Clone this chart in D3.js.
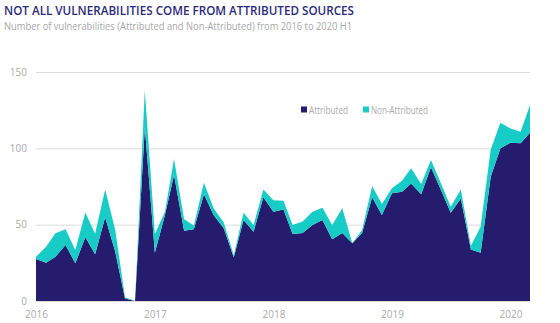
<!DOCTYPE html>
<html><head><meta charset="utf-8">
<script src="https://cdn.jsdelivr.net/npm/d3@7"></script>
<style>
html,body{margin:0;padding:0;background:#fff;}
svg{display:block;font-family:"Open Sans",sans-serif;}
</style></head>
<body><svg id="c" width="560" height="323"></svg>
<script>
const startMonth = "2016-01";
const attributed = [27.5,25,29,36.7,24.7,41.7,30.6,54.8,32.3,1.7,0,114,
  31.6,56.3,82.5,46,47,70,56.3,47.6,28.6,53,45.4,67.9,
  58.5,60,43.9,44.5,49.8,53,40.4,44.5,37.8,44.5,67.9,56.3,
  70.5,71.6,77,70,87.6,72.7,57.8,67.2,33.8,31.6,81.4,100,
  103.7,103.3,110.2];
const total = [29,35.6,44.3,47,33.4,58,44,73,46.5,2.4,0,138,
  43.9,58.5,93,53.5,49.5,77.5,60.7,51.5,30,57.8,49.8,73,
  66,65.7,49.8,52,58.5,61,49.8,60.7,37.8,46.5,75.3,63.5,
  73.8,78.8,86.9,76.6,92.3,77,61.8,73,36,48.7,99.3,116.8,
  113,110.9,128.4];
const nonAttributed = total.map((t,i)=>Math.max(0, +(t-attributed[i]).toFixed(1)));
const yTicks = [0,50,100,150];
const yearTicks = ["2016","2017","2018","2019","2020"];
const seriesNames = ["Attributed","Non-Attributed"];
const colors = ["#261c6e","#17cbc6"];

const parse = d3.timeParse("%Y-%m");
const t0 = parse(startMonth);
const data = attributed.map((a,i)=>({date:d3.timeMonth.offset(t0,i), Attributed:a, "Non-Attributed":nonAttributed[i]}));

const svg = d3.select("#c");
const x = d3.scaleTime().domain(d3.extent(data,d=>d.date)).range([36,530]);
const y = d3.scaleLinear().domain([0,150]).range([301,72]);

// title
svg.append("text").attr("x",4).attr("y",15).attr("fill","#2b2a7c")
  .style("font-family","'Open Sans',sans-serif").style("font-weight","600").style("font-size","13px")
  .attr("textLength",350).attr("lengthAdjust","spacingAndGlyphs")
  .text("NOT ALL VULNERABILITIES COME FROM ATTRIBUTED SOURCES");
svg.append("text").attr("x",4).attr("y",30).attr("fill","#a8a8a8")
  .style("font-size","10px").attr("textLength",348).attr("lengthAdjust","spacingAndGlyphs")
  .text("Number of vulnerabilities (Attributed and Non-Attributed) from 2016 to 2020 H1");

// grid
const gy = svg.append("g").attr("transform","translate(36,0)")
  .call(d3.axisLeft(y).tickValues(yTicks).tickSize(-494).tickPadding(9));
gy.select(".domain").remove();
gy.selectAll(".tick line").attr("stroke","#dcdcdc").attr("stroke-width",1);
gy.selectAll(".tick text").attr("fill","#ababab").style("font-size","10px").style("font-family","'Open Sans',sans-serif");

// stacked areas
const stack = d3.stack().keys(seriesNames);
const layers = stack(data);
const area = d3.area().x(d=>x(d.data.date)).y0(d=>y(d[0])).y1(d=>y(d[1]));
svg.append("g").selectAll("path").data(layers).join("path")
  .attr("d",area).attr("fill",(d,i)=>colors[i]);

// x axis
const gx = svg.append("g").attr("transform","translate(0,301)")
  .call(d3.axisBottom(x).tickValues(yearTicks.map(s=>d3.timeParse("%Y")(s))).tickFormat(d3.timeFormat("%Y")).tickSize(0).tickPadding(10));
gx.select(".domain").remove();
gx.selectAll(".tick text").attr("fill","#ababab").style("font-size","10px").style("font-family","'Open Sans',sans-serif");

// legend
const lg = svg.append("g");
const lx = [301,363];
const lw = [39,57];
seriesNames.forEach((n,i)=>{
  lg.append("rect").attr("x",lx[i]).attr("y",106.5).attr("width",6).attr("height",6).attr("fill",colors[i]);
  lg.append("text").attr("x",lx[i]+8).attr("y",113.5).attr("fill","#ababab").style("font-size","10px")
    .attr("textLength",lw[i]).attr("lengthAdjust","spacingAndGlyphs").text(n);
});
</script></body></html>
